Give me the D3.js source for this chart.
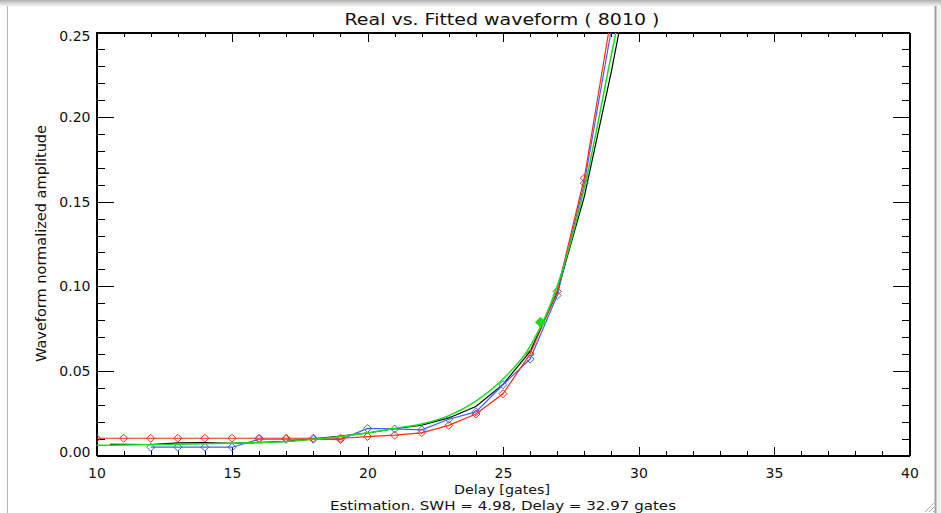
<!DOCTYPE html>
<html>
<head>
<meta charset="utf-8">
<script src="https://cdn.jsdelivr.net/npm/d3@7"></script>
<style>
  body { margin: 0; background: #fff; }
  svg { display: block; }
  text { font-family: "DejaVu Sans", sans-serif; fill: #111; }
</style>
</head>
<body>
<svg id="chart" width="941" height="513"></svg>
<script>
// measured waveform (red, diamonds)
var redGates = [10, 11, 12, 13, 14, 15, 16, 17, 18, 19, 20, 21, 22, 23, 24, 25, 26, 27, 28, 29]
var redAmp = [0.0102, 0.0102, 0.0102, 0.0102, 0.0102, 0.0102, 0.0102, 0.0102, 0.0102, 0.0102,
  0.0112, 0.0120, 0.0134, 0.0178, 0.0245, 0.0365, 0.0600, 0.0970, 0.1640, 0.2600]

// second waveform (blue, diamonds)
var blueGates = [12, 13, 14, 15, 16, 17, 18, 19, 20, 21, 22, 23, 24, 25, 26, 27, 28, 29]
var blueAmp = [0.0049, 0.0049, 0.0049, 0.0049, 0.0096, 0.0096, 0.0096, 0.0094, 0.0160, 0.0157,
  0.0152, 0.0214, 0.0258, 0.0418, 0.0570, 0.0946, 0.1610, 0.2520]

// black waveform
var blackGates = [10.5, 11, 12, 13, 14, 15, 16, 17, 18, 19, 20, 21, 22, 23, 24, 25, 26, 27, 28, 29, 30]
var blackAmp = [0.0066, 0.0066, 0.0065, 0.0075, 0.0076, 0.0072, 0.0076, 0.0084, 0.0099, 0.0114,
  0.0133, 0.0158, 0.0180, 0.0222, 0.0290, 0.0420, 0.0615, 0.0965, 0.1530, 0.2270, 0.3100]

// fitted model (green)
var greenGates = [10, 11, 12, 13, 14, 15, 16, 17, 18, 19, 20, 21, 22, 23, 24, 25, 26, 27, 28, 29, 30]
var greenAmp = [0.0060, 0.0062, 0.0064, 0.0067, 0.0070, 0.0073, 0.0077, 0.0083, 0.0096, 0.0112,
  0.0134, 0.0160, 0.0186, 0.0236, 0.0322, 0.0452, 0.0645, 0.1000, 0.1580, 0.2370, 0.3150]

// fitted epoch marker
var markerGate = [26.38]
var markerAmp = [0.0788]

var xMajor = [10, 15, 20, 25, 30, 35, 40]
var yMajor = [0.00, 0.05, 0.10, 0.15, 0.20, 0.25]

var titleText = 'Real vs. Fitted waveform ( 8010 )'
var xTitle = 'Delay [gates]'
var yTitle = 'Waveform normalized amplitude'
var subTitle = 'Estimation. SWH =  4.98, Delay = 32.97 gates'

var W = 941, H = 513
var margin = {top: 32, right: 32, bottom: 58, left: 96}
var width = W - margin.left - margin.right
var height = H - margin.top - margin.bottom

var svg = d3.select('#chart')

// window frame around the plot
var defs = svg.append('defs')
var grad = defs.append('linearGradient').attr('id', 'topShade')
  .attr('x1', 0).attr('y1', 0).attr('x2', 0).attr('y2', 1)
grad.append('stop').attr('offset', '0%').attr('stop-color', '#b0b0b0')
grad.append('stop').attr('offset', '100%').attr('stop-color', '#ffffff')
svg.append('rect').attr('x', 0).attr('y', 0).attr('width', W).attr('height', 7)
  .attr('fill', 'url(#topShade)')
svg.append('line').attr('x1', 7.5).attr('x2', 7.5).attr('y1', 6).attr('y2', H)
  .attr('stroke', '#b4b4b4')
svg.append('line').attr('x1', 935.5).attr('x2', 935.5).attr('y1', 6).attr('y2', H)
  .attr('stroke', '#a0a0a0').attr('stroke-width', 2)
svg.append('rect').attr('x', 937).attr('y', 6).attr('width', 4).attr('height', H - 6)
  .attr('fill', '#f2f2f2')
var grip = svg.append('g').attr('stroke', '#a8a8a8')
;[0, 4, 8].forEach(function (o) {
  grip.append('line').attr('x1', 933 - o).attr('y1', H - 1).attr('x2', 934).attr('y2', H - 2 - o)
})

defs.append('clipPath').attr('id', 'plotClip')
  .append('rect').attr('x', 0).attr('y', 0).attr('width', width).attr('height', height)

var g = svg.append('g')
  .attr('transform', 'translate(' + (margin.left + 0.5) + ',' + (margin.top + 0.5) + ')')

var x = d3.scaleLinear().domain([10, 40]).range([0, width])
var y = d3.scaleLinear().domain([0, 0.25]).range([height, 0])

var xMinor = d3.range(10, 40.01, 1).filter(function (v) { return v % 5 !== 0 })
var yMinor = d3.range(0, 0.2501, 0.01).filter(function (v) { return Math.round(v * 100) % 5 !== 0 })

function styleAxis (sel) {
  sel.attr('font-size', null).attr('font-family', null)
  sel.select('.domain').attr('stroke', '#000')
  sel.selectAll('line').attr('stroke', '#000')
  sel.selectAll('text').attr('font-size', 14)
  sel.attr('shape-rendering', 'crispEdges')
}

var xMajLen = 9, xMinLen = 4.5, yMajLen = 17, yMinLen = 8

g.append('g').attr('transform', 'translate(0,' + height + ')')
  .call(d3.axisBottom(x).tickValues(xMajor).tickSize(-xMajLen).tickSizeOuter(0).tickPadding(13)
    .tickFormat(d3.format('d')))
  .call(styleAxis)
g.append('g').attr('transform', 'translate(0,' + height + ')')
  .call(d3.axisBottom(x).tickValues(xMinor).tickSize(-xMinLen).tickSizeOuter(0).tickFormat(''))
  .call(styleAxis)
g.append('g')
  .call(d3.axisTop(x).tickValues(xMajor).tickSize(-xMajLen).tickSizeOuter(0).tickFormat(''))
  .call(styleAxis)
g.append('g')
  .call(d3.axisTop(x).tickValues(xMinor).tickSize(-xMinLen).tickSizeOuter(0).tickFormat(''))
  .call(styleAxis)

var yAxisG = g.append('g')
  .call(d3.axisLeft(y).tickValues(yMajor).tickSize(-yMajLen).tickSizeOuter(0).tickPadding(6)
    .tickFormat(d3.format('.2f')))
  .call(styleAxis)
// end labels sit slightly inside the box, as in the original
yAxisG.selectAll('.tick text')
  .attr('y', function (d) { return d === 0.25 ? 4 : (d === 0 ? -3 : 0) })

g.append('g')
  .call(d3.axisLeft(y).tickValues(yMinor).tickSize(-yMinLen).tickSizeOuter(0).tickFormat(''))
  .call(styleAxis)
g.append('g').attr('transform', 'translate(' + width + ',0)')
  .call(d3.axisRight(y).tickValues(yMajor).tickSize(-yMajLen).tickSizeOuter(0).tickFormat(''))
  .call(styleAxis)
g.append('g').attr('transform', 'translate(' + width + ',0)')
  .call(d3.axisRight(y).tickValues(yMinor).tickSize(-yMinLen).tickSizeOuter(0).tickFormat(''))
  .call(styleAxis)

// series
var plot = g.append('g').attr('clip-path', 'url(#plotClip)')

function pairs (xs, ys) {
  return xs.map(function (v, i) { return [v, ys[i]] })
}

var line = d3.line()
  .x(function (d) { return x(d[0]) })
  .y(function (d) { return y(d[1]) })

var smooth = d3.line()
  .curve(d3.curveMonotoneX)
  .x(function (d) { return x(d[0]) })
  .y(function (d) { return y(d[1]) })

function diamondAt (r) {
  return function (d) {
    var cx = x(d[0]), cy = y(d[1])
    return 'M' + cx + ',' + (cy - r) + 'L' + (cx + r) + ',' + cy + 'L' + cx + ',' + (cy + r) +
      'L' + (cx - r) + ',' + cy + 'Z'
  }
}

plot.append('path')
  .datum(pairs(blackGates, blackAmp))
  .attr('d', line)
  .attr('fill', 'none')
  .attr('stroke', '#000')
  .attr('stroke-width', 1.2)

var blue = pairs(blueGates, blueAmp)
plot.append('path')
  .datum(blue)
  .attr('d', line)
  .attr('fill', 'none')
  .attr('stroke', '#3a62ff')
  .attr('stroke-width', 1.2)
plot.selectAll('.bluePt')
  .data(blue)
  .enter().append('path')
  .attr('class', 'bluePt')
  .attr('d', diamondAt(4))
  .attr('fill', 'none')
  .attr('stroke', '#3a62ff')

var red = pairs(redGates, redAmp)
plot.append('path')
  .datum(red)
  .attr('d', line)
  .attr('fill', 'none')
  .attr('stroke', '#ff2a10')
  .attr('stroke-width', 1.2)
plot.selectAll('.redPt')
  .data(red)
  .enter().append('path')
  .attr('class', 'redPt')
  .attr('d', diamondAt(4))
  .attr('fill', 'none')
  .attr('stroke', '#ff2a10')

plot.append('path')
  .datum(pairs(greenGates, greenAmp))
  .attr('d', smooth)
  .attr('fill', 'none')
  .attr('stroke', '#18e018')
  .attr('stroke-width', 1.5)

plot.selectAll('.fitPt')
  .data(pairs(markerGate, markerAmp))
  .enter().append('path')
  .attr('class', 'fitPt')
  .attr('d', diamondAt(5.5))
  .attr('fill', '#18e018')

// plot box
g.append('rect')
  .attr('width', width).attr('height', height)
  .attr('fill', 'none').attr('stroke', '#000')
  .attr('shape-rendering', 'crispEdges')

// texts
svg.append('text')
  .attr('x', 502).attr('y', 25)
  .attr('text-anchor', 'middle')
  .attr('font-size', 15)
  .attr('textLength', 315).attr('lengthAdjust', 'spacingAndGlyphs')
  .text(titleText)

svg.append('text')
  .attr('transform', 'translate(46,' + (margin.top + height / 2) + ') rotate(-90)')
  .attr('text-anchor', 'middle')
  .attr('font-size', 14)
  .attr('textLength', 237).attr('lengthAdjust', 'spacingAndGlyphs')
  .text(yTitle)

svg.append('text')
  .attr('x', 502).attr('y', 494)
  .attr('text-anchor', 'middle')
  .attr('font-size', 13)
  .attr('textLength', 96).attr('lengthAdjust', 'spacingAndGlyphs')
  .text(xTitle)

svg.append('text')
  .attr('x', 503).attr('y', 510)
  .attr('text-anchor', 'middle')
  .attr('font-size', 12.5)
  .attr('textLength', 346).attr('lengthAdjust', 'spacingAndGlyphs')
  .text(subTitle)
</script>
</body>
</html>
